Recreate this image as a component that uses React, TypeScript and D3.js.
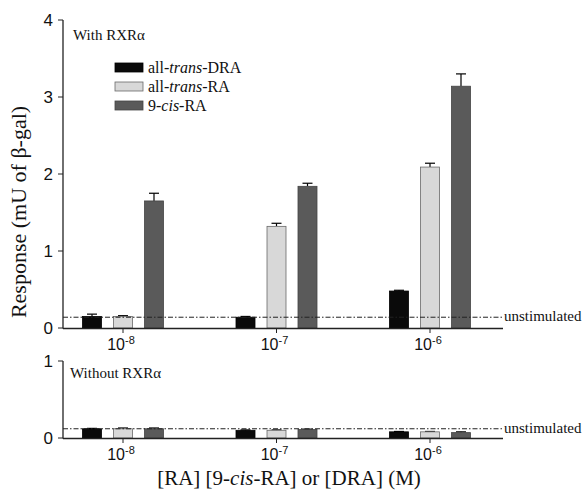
import React from "react";
import * as d3 from "d3";

const concentrations = ["-8", "-7", "-6"];
const seriesNames = ["DRA", "RA", "9cis"];
const seriesColors = ["#0a0a0a", "#d8d8d8", "#5a5a5a"];
const seriesStrokes = ["#000", "#6a6a6a", "#444"];

const topDRA = [0.15, 0.14, 0.48];
const topDRAErr = [0.03, 0.01, 0.01];
const topRA = [0.15, 1.32, 2.09];
const topRAErr = [0.01, 0.04, 0.05];
const top9cis = [1.65, 1.84, 3.14];
const top9cisErr = [0.1, 0.04, 0.16];

const botDRA = [0.12, 0.1, 0.08];
const botDRAErr = [0.005, 0.005, 0.005];
const botRA = [0.12, 0.1, 0.08];
const botRAErr = [0.01, 0.005, 0.005];
const bot9cis = [0.12, 0.11, 0.07];
const bot9cisErr = [0.01, 0.005, 0.01];

const topTicks = [0, 1, 2, 3, 4];
const botTicks = [0, 1];
const unstimTop = 0.14;
const unstimBot = 0.12;

const SERIF = "'Liberation Serif', 'Times New Roman', serif";
const SANS = "'Liberation Sans', Arial, sans-serif";

function Panel({ yScale, values, errs, ticks, unstim, label }: any) {
  const x = d3.scalePoint<string>().domain(concentrations).range([123, 430]);
  const inner = d3.scaleBand<string>().domain(seriesNames).range([-40.5, 40.5]).paddingInner(0.387);
  const xLeft = 63;
  const xRight = 503;
  const y0 = yScale(0);
  return (
    <g>
      {concentrations.map((c, ci) =>
        seriesNames.map((s, si) => {
          const v = values[si][ci];
          const e = errs[si][ci];
          const bx = (x(c) as number) + (inner(s) as number);
          const bw = inner.bandwidth();
          const cx = bx + bw / 2;
          return (
            <g key={c + s}>
              <line x1={cx} x2={cx} y1={yScale(v)} y2={yScale(v + e)} stroke="#000" strokeWidth={1.2} />
              <line x1={cx - 5} x2={cx + 5} y1={yScale(v + e)} y2={yScale(v + e)} stroke="#000" strokeWidth={1.2} />
              <rect x={bx} y={yScale(v)} width={bw} height={y0 - yScale(v)} fill={seriesColors[si]} stroke={seriesStrokes[si]} strokeWidth={0.8} />
            </g>
          );
        })
      )}
      <line x1={xLeft} x2={xRight} y1={yScale(unstim)} y2={yScale(unstim)} stroke="#222" strokeWidth={1} strokeDasharray="5,2,1.5,2" />
      <text x={xRight + 1} y={yScale(unstim) + 4} fontFamily={SERIF} fontSize={15} fill="#111">unstimulated</text>
      <line x1={xLeft} x2={xRight} y1={y0 + 0.5} y2={y0 + 0.5} stroke="#222" strokeWidth={1.3} />
      {concentrations.map((c) => (
        <g key={c}>
          <line x1={x(c)} x2={x(c)} y1={y0} y2={y0 + 5} stroke="#222" strokeWidth={1} />
          <text x={(x(c) as number) - 2} y={y0 + 22} textAnchor="middle" fontFamily={SANS} fontSize={16} fill="#111">
            10<tspan dy={-6} fontSize={11}>{c}</tspan>
          </text>
        </g>
      ))}
      <line x1={xLeft} x2={xLeft} y1={yScale(ticks[ticks.length - 1])} y2={y0 + 0.5} stroke="#222" strokeWidth={1.3} />
      {ticks.map((t: number) => (
        <g key={t}>
          <line x1={xLeft - 5} x2={xLeft} y1={yScale(t)} y2={yScale(t)} stroke="#222" strokeWidth={1} />
          <text x={xLeft - 10} y={yScale(t) + 6} textAnchor="end" fontFamily={SANS} fontSize={17} fill="#111">{t}</text>
        </g>
      ))}
      <text x={label.x} y={label.y} fontFamily={SERIF} fontSize={15} fill="#111">{label.text}</text>
    </g>
  );
}

export default function App() {
  const yTop = d3.scaleLinear().domain([0, 4]).range([328, 20]);
  const yBot = d3.scaleLinear().domain([0, 1]).range([438, 361]);
  const legendItems = [
    { name: "DRA", pre: "all-", it: "trans", post: "-DRA" },
    { name: "RA", pre: "all-", it: "trans", post: "-RA" },
    { name: "9cis", pre: "9-", it: "cis", post: "-RA" },
  ];
  return (
    <svg width={585} height={491} style={{ position: "absolute", left: 0, top: 0, background: "#fff" }}>
      <rect width={585} height={491} fill="#fff" />
      <Panel
        yScale={yTop}
        values={[topDRA, topRA, top9cis]}
        errs={[topDRAErr, topRAErr, top9cisErr]}
        ticks={topTicks}
        unstim={unstimTop}
        label={{ x: 73, y: 40, text: "With RXRα" }}
      />
      <Panel
        yScale={yBot}
        values={[botDRA, botRA, bot9cis]}
        errs={[botDRAErr, botRAErr, bot9cisErr]}
        ticks={botTicks}
        unstim={unstimBot}
        label={{ x: 70, y: 378, text: "Without RXRα" }}
      />
      {legendItems.map((d, i) => (
        <g key={d.name}>
          <rect x={115} y={63 + i * 19} width={28} height={9} fill={seriesColors[i]} stroke={seriesStrokes[i]} strokeWidth={0.8} />
          <text x={148} y={73 + i * 19} fontFamily={SERIF} fontSize={16} fill="#111">
            {d.pre}<tspan fontStyle="italic">{d.it}</tspan>{d.post}
          </text>
        </g>
      ))}
      <text transform="translate(26,212) rotate(-90)" textAnchor="middle" fontFamily={SERIF} fontSize={22} fill="#111">
        Response (mU of β-gal)
      </text>
      <text x={289} y={485} textAnchor="middle" fontFamily={SERIF} fontSize={21} fill="#111">
        [RA] [9-<tspan fontStyle="italic">cis</tspan>-RA] or [DRA] (M)
      </text>
    </svg>
  );
}
